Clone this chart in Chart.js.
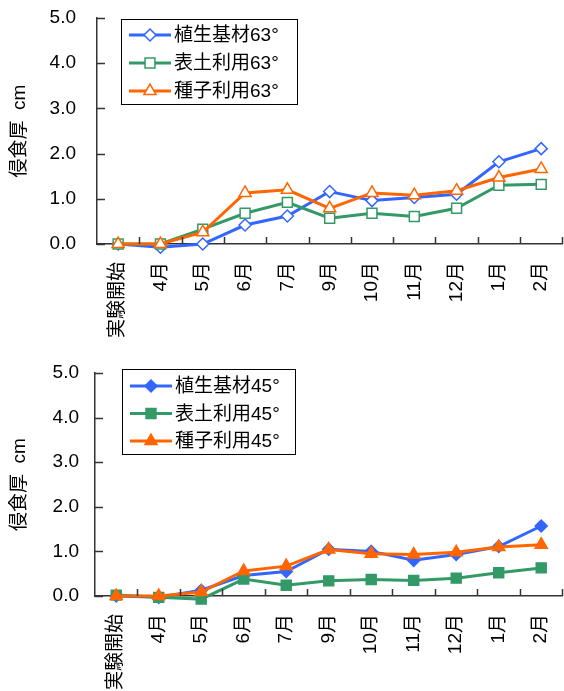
<!DOCTYPE html>
<html>
<head>
<meta charset="utf-8">
<script src="https://cdn.jsdelivr.net/npm/chart.js@4.4.1/dist/chart.umd.min.js"></script>
<style>
  html, body { margin: 0; padding: 0; background: #fff; overflow: hidden; }
  canvas { display: block; }
</style>
</head>
<body>
<canvas id="chart63" width="564" height="346"></canvas>
<canvas id="chart45" width="564" height="345"></canvas>
<script>
// カテゴリ（横軸）
const categories = ['実験開始', '4月', '5月', '6月', '7月', '9月', '10月', '11月', '12月', '1月', '2月'];

// 63° 法面
const labels63 = ['植生基材63°', '表土利用63°', '種子利用63°'];
const shokusei63 = [0, -0.07, 0.0, 0.42, 0.62, 1.16, 0.96, 1.03, 1.10, 1.82, 2.11];
const hyodo63 = [0, 0, 0.33, 0.68, 0.92, 0.57, 0.68, 0.61, 0.79, 1.30, 1.32];
const shushi63 = [0, 0, 0.26, 1.13, 1.20, 0.79, 1.13, 1.08, 1.18, 1.47, 1.66];

// 45° 法面
const labels45 = ['植生基材45°', '表土利用45°', '種子利用45°'];
const shokusei45 = [0, -0.03, 0.13, 0.46, 0.55, 1.05, 1.00, 0.80, 0.93, 1.11, 1.57];
const hyodo45 = [0.02, -0.03, -0.07, 0.38, 0.24, 0.34, 0.37, 0.35, 0.40, 0.52, 0.63];
const shushi45 = [0, 0, 0.09, 0.56, 0.67, 1.04, 0.95, 0.93, 0.98, 1.10, 1.15];

const yMin = 0, yMax = 5, yStep = 1;
const yTitle = '侵食厚  cm';

const BLUE = '#3366ff';
const GREEN = '#339966';
const ORANGE = '#ff6600';
const AXIS = '#333';
const FONT = "'Liberation Sans', 'Noto Sans CJK JP', sans-serif";

// 軸の内向き目盛り
const innerTicks = {
  id: 'innerTicks',
  afterDraw(chart) {
    const { ctx, chartArea, scales: { x, y } } = chart;
    ctx.save();
    ctx.strokeStyle = AXIS;
    ctx.lineWidth = 1.5;
    y.ticks.forEach(t => {
      const py = Math.round(y.getPixelForValue(t.value)) + 0.5;
      ctx.beginPath();
      ctx.moveTo(chartArea.left, py);
      ctx.lineTo(chartArea.left + 8, py);
      ctx.stroke();
    });
    const half = (x.getPixelForValue(1) - x.getPixelForValue(0)) / 2;
    for (let i = 0; i < categories.length; i++) {
      const px = Math.round(x.getPixelForValue(i) + half) + 0.5;
      ctx.beginPath();
      ctx.moveTo(px, chartArea.bottom);
      ctx.lineTo(px, chartArea.bottom - 7);
      ctx.stroke();
    }
    ctx.restore();
  }
};

// 枠付きの凡例（グラフ内）
const boxLegend = {
  id: 'boxLegend',
  afterDraw(chart, args, opts) {
    const { ctx } = chart;
    const { left, top, width, height, rowH, first } = opts;
    ctx.save();
    ctx.fillStyle = '#fff';
    ctx.fillRect(left, top, width, height);
    ctx.strokeStyle = '#000';
    ctx.lineWidth = 1;
    ctx.strokeRect(Math.round(left) + 0.5, Math.round(top) + 0.5, width, height);
    chart.data.datasets.forEach((ds, i) => {
      const cy = top + first + i * rowH;
      ctx.strokeStyle = ds.borderColor;
      ctx.lineWidth = 3;
      ctx.beginPath();
      ctx.moveTo(left + 8, cy);
      ctx.lineTo(left + 50, cy);
      ctx.stroke();
      ctx.fillStyle = ds.pointBackgroundColor;
      ctx.strokeStyle = ds.borderColor;
      ctx.lineWidth = ds.pointBorderWidth;
      Chart.helpers.drawPoint(ctx, {
        pointStyle: ds.pointStyle,
        radius: ds.pointRadius,
        rotation: 0,
        borderWidth: ds.pointBorderWidth
      }, left + 29, cy);
      ctx.fillStyle = '#000';
      ctx.font = '19px ' + FONT;
      ctx.textBaseline = 'middle';
      ctx.fillText(ds.label, left + 53, cy + 1);
    });
    ctx.restore();
  }
};

function makeDatasets(labels, series, hollow) {
  const colors = [BLUE, GREEN, ORANGE];
  const styles = ['rectRot', 'rect', 'triangle'];
  const radii = [6, 7, 7];
  return series.map((values, i) => ({
    label: labels[i],
    data: values,
    borderColor: colors[i],
    borderWidth: 3,
    pointStyle: styles[i],
    pointRadius: radii[i],
    pointHoverRadius: radii[i],
    pointBackgroundColor: hollow ? '#fff' : colors[i],
    pointBorderColor: colors[i],
    pointBorderWidth: 1.5,
    tension: 0,
    clip: false,
    order: 2 - i,
  }));
}

function makeChart(id, labels, series, hollow, dims) {
  return new Chart(document.getElementById(id), {
    type: 'line',
    data: {
      labels: categories,
      datasets: makeDatasets(labels, series, hollow),
    },
    options: {
      responsive: false,
      animation: false,
      layout: { autoPadding: false, padding: { top: dims.top, right: 0, left: 0, bottom: 0 } },
      scales: {
        x: {
          offset: true,
          // 透明な目盛り線でラベルの位置を下げる
          grid: { display: true, drawOnChartArea: false, drawTicks: true, tickLength: 18, tickColor: 'rgba(0,0,0,0)', offset: true },
          border: { display: true, color: AXIS, width: 1.5 },
          ticks: {
            color: '#000',
            font: { family: FONT, size: 19 },
            minRotation: 90,
            maxRotation: 90,
            autoSkip: false,
            padding: 0,
          },
          afterFit: (scale) => { scale.height = dims.xHeight; },
        },
        y: {
          min: yMin,
          max: yMax,
          grid: { display: true, drawOnChartArea: false, drawTicks: true, tickLength: dims.tickPad - 3, tickColor: 'rgba(0,0,0,0)' },
          border: { display: true, color: AXIS, width: 1.5 },
          ticks: {
            stepSize: yStep,
            color: '#000',
            font: { family: FONT, size: 19 },
            padding: 3,
            callback: (v) => v.toFixed(1),
          },
          title: {
            display: true,
            text: yTitle,
            color: '#000',
            font: { family: FONT, size: 19 },
            padding: { top: 8, bottom: 0 },
          },
          afterFit: (scale) => { scale.width = dims.yWidth; },
        },
      },
      plugins: {
        legend: { display: false },
        tooltip: { enabled: false },
        boxLegend: dims.legend,
      },
    },
    plugins: [innerTicks, boxLegend],
  });
}

makeChart('chart63', labels63, [shokusei63, hyodo63, shushi63], true, {
  top: 18, xHeight: 102, yWidth: 97, tickPad: 21,
  legend: { left: 121, top: 19, width: 176, height: 85, rowH: 28, first: 16 },
});

makeChart('chart45', labels45, [shokusei45, hyodo45, shushi45], false, {
  top: 27, xHeight: 95, yWidth: 95, tickPad: 16,
  legend: { left: 122, top: 23, width: 173, height: 85, rowH: 27.5, first: 17 },
});
</script>
</body>
</html>
